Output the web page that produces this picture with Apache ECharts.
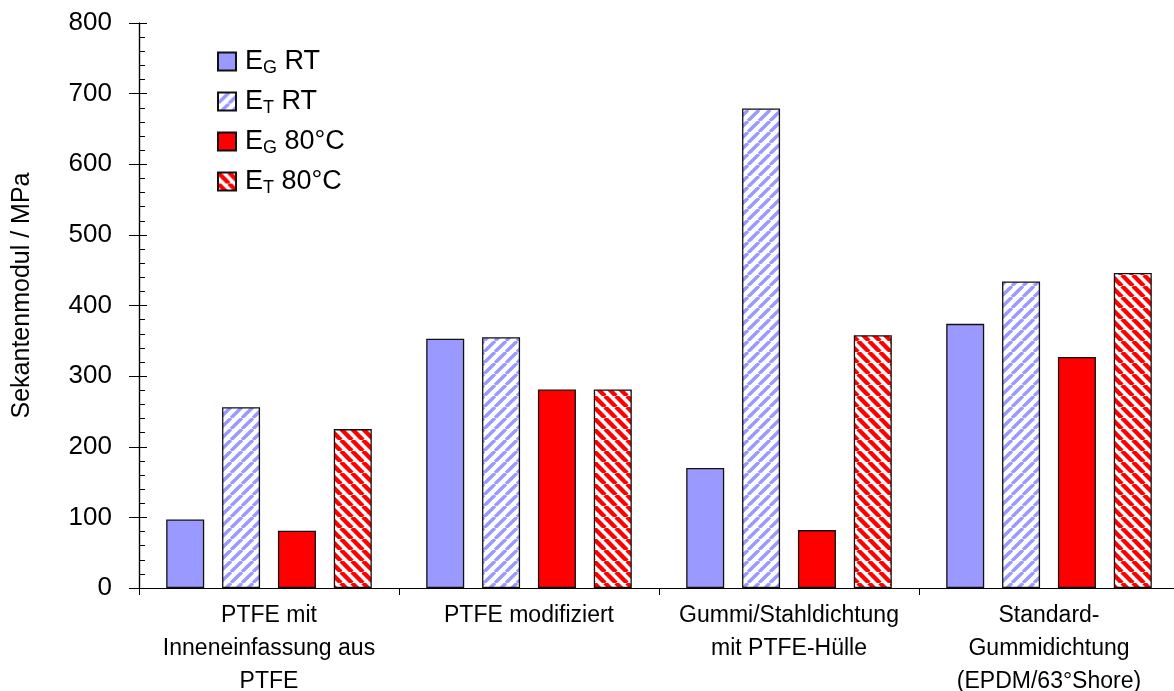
<!DOCTYPE html>
<html>
<head>
<meta charset="utf-8">
<script src="https://cdn.jsdelivr.net/npm/echarts@6/dist/echarts.min.js"></script>
<style>
  html, body { margin: 0; padding: 0; background: #fff; }
  #chart { width: 1174px; height: 691px; }
</style>
</head>
<body>
<div id="chart"></div>
<script>
// Sekantenmodul of four gasket types, measured at RT and 80 °C
const categories = [
  'PTFE mit\nInneneinfassung aus\nPTFE',
  'PTFE modifiziert',
  'Gummi/Stahldichtung\nmit PTFE-Hülle',
  'Standard-\nGummidichtung\n(EPDM/63°Shore)'
];
const seriesNames = ['EG RT', 'ET RT', 'EG 80°C', 'ET 80°C'];
const egRT = [97, 353, 170, 374];
const etRT = [256, 355, 679, 434];
const eg80 = [81, 281, 82, 327];
const et80 = [225, 281, 358, 446];
const yTicks = { min: 0, max: 800, step: 100 };
const yTitle = 'Sekantenmodul / MPa';

const FONT = '"Liberation Sans", Arial, sans-serif';
const BLUE = '#9999FF';
const RED = '#FF0000';

// Diagonal hatch tile; dir 1 = "/" stripes, dir -1 = "\" stripes
function hatch(color, size, width, dir) {
  const c = document.createElement('canvas');
  c.width = size; c.height = size;
  const g = c.getContext('2d');
  g.fillStyle = '#fff';
  g.fillRect(0, 0, size, size);
  g.strokeStyle = color;
  g.lineWidth = width;
  g.beginPath();
  for (let k = -1; k <= 1; k++) {
    if (dir > 0) {
      g.moveTo(k * size, size);
      g.lineTo(k * size + size, 0);
    } else {
      g.moveTo(k * size, 0);
      g.lineTo(k * size + size, size);
    }
  }
  g.stroke();
  return { image: c, repeat: 'repeat' };
}

const fills = [
  BLUE,
  hatch(BLUE, 11, 3.4, 1),
  RED,
  hatch(RED, 11, 4.4, -1)
];
const values = [egRT, etRT, eg80, et80];

const chart = echarts.init(document.getElementById('chart'), null, { renderer: 'canvas' });

const axisBase = {
  type: 'value',
  min: yTicks.min,
  max: yTicks.max,
  interval: yTicks.step,
  splitLine: { show: false },
  axisLine: { show: true, lineStyle: { color: '#000', width: 1.2 } }
};

chart.setOption({
  animation: false,
  backgroundColor: '#fff',
  textStyle: { fontFamily: FONT },
  grid: {
    left: 139, top: 23, width: 1040, height: 565,
    containLabel: false, outerBoundsMode: 'none'
  },
  legend: {
    orient: 'vertical',
    left: 212,
    top: 43,
    icon: 'rect',
    itemWidth: 18,
    itemHeight: 18,
    itemGap: 11,
    data: seriesNames,
    formatter: n => '{b|' + n[0] + '}{s|' + n[1] + '}{b|' + n.slice(2) + '}',
    textStyle: {
      padding: [0, 0, 0, 4],
      rich: {
        b: { fontSize: 27, fontFamily: FONT, color: '#000' },
        s: { fontSize: 18, fontFamily: FONT, color: '#000', padding: [13, 0, 0, 0] }
      }
    }
  },
  xAxis: {
    type: 'category',
    data: categories,
    axisLine: { lineStyle: { color: '#000', width: 1.2 } },
    axisTick: { show: true, alignWithLabel: false, length: 7, lineStyle: { color: '#000' } },
    axisLabel: {
      color: '#000', fontSize: 23, fontFamily: FONT, lineHeight: 33,
      margin: 11, interval: 0, align: 'center'
    }
  },
  yAxis: [
    Object.assign({}, axisBase, {
      name: yTitle,
      nameLocation: 'middle',
      nameGap: 104,
      nameRotate: 90,
      nameTextStyle: { fontSize: 25, color: '#000', fontFamily: FONT, padding: [0, 0, 0, 20] },
      axisTick: { show: true, length: 10, lineStyle: { color: '#000' } },
      axisLabel: { color: '#000', fontSize: 26, fontFamily: FONT, margin: 27 }
    }),
    Object.assign({}, axisBase, {
      position: 'left',
      axisTick: { show: true, inside: true, length: 8, lineStyle: { color: '#000' } },
      minorTick: { show: true, splitNumber: 5, length: 6, lineStyle: { color: '#000' } },
      axisLabel: { show: false }
    })
  ],
  series: values.map((arr, i) => ({
    name: seriesNames[i],
    type: 'bar',
    data: arr,
    barWidth: 38,
    barGap: '47%',
    itemStyle: { color: fills[i], borderColor: '#111', borderWidth: 1.3 }
  }))
});
</script>
</body>
</html>
